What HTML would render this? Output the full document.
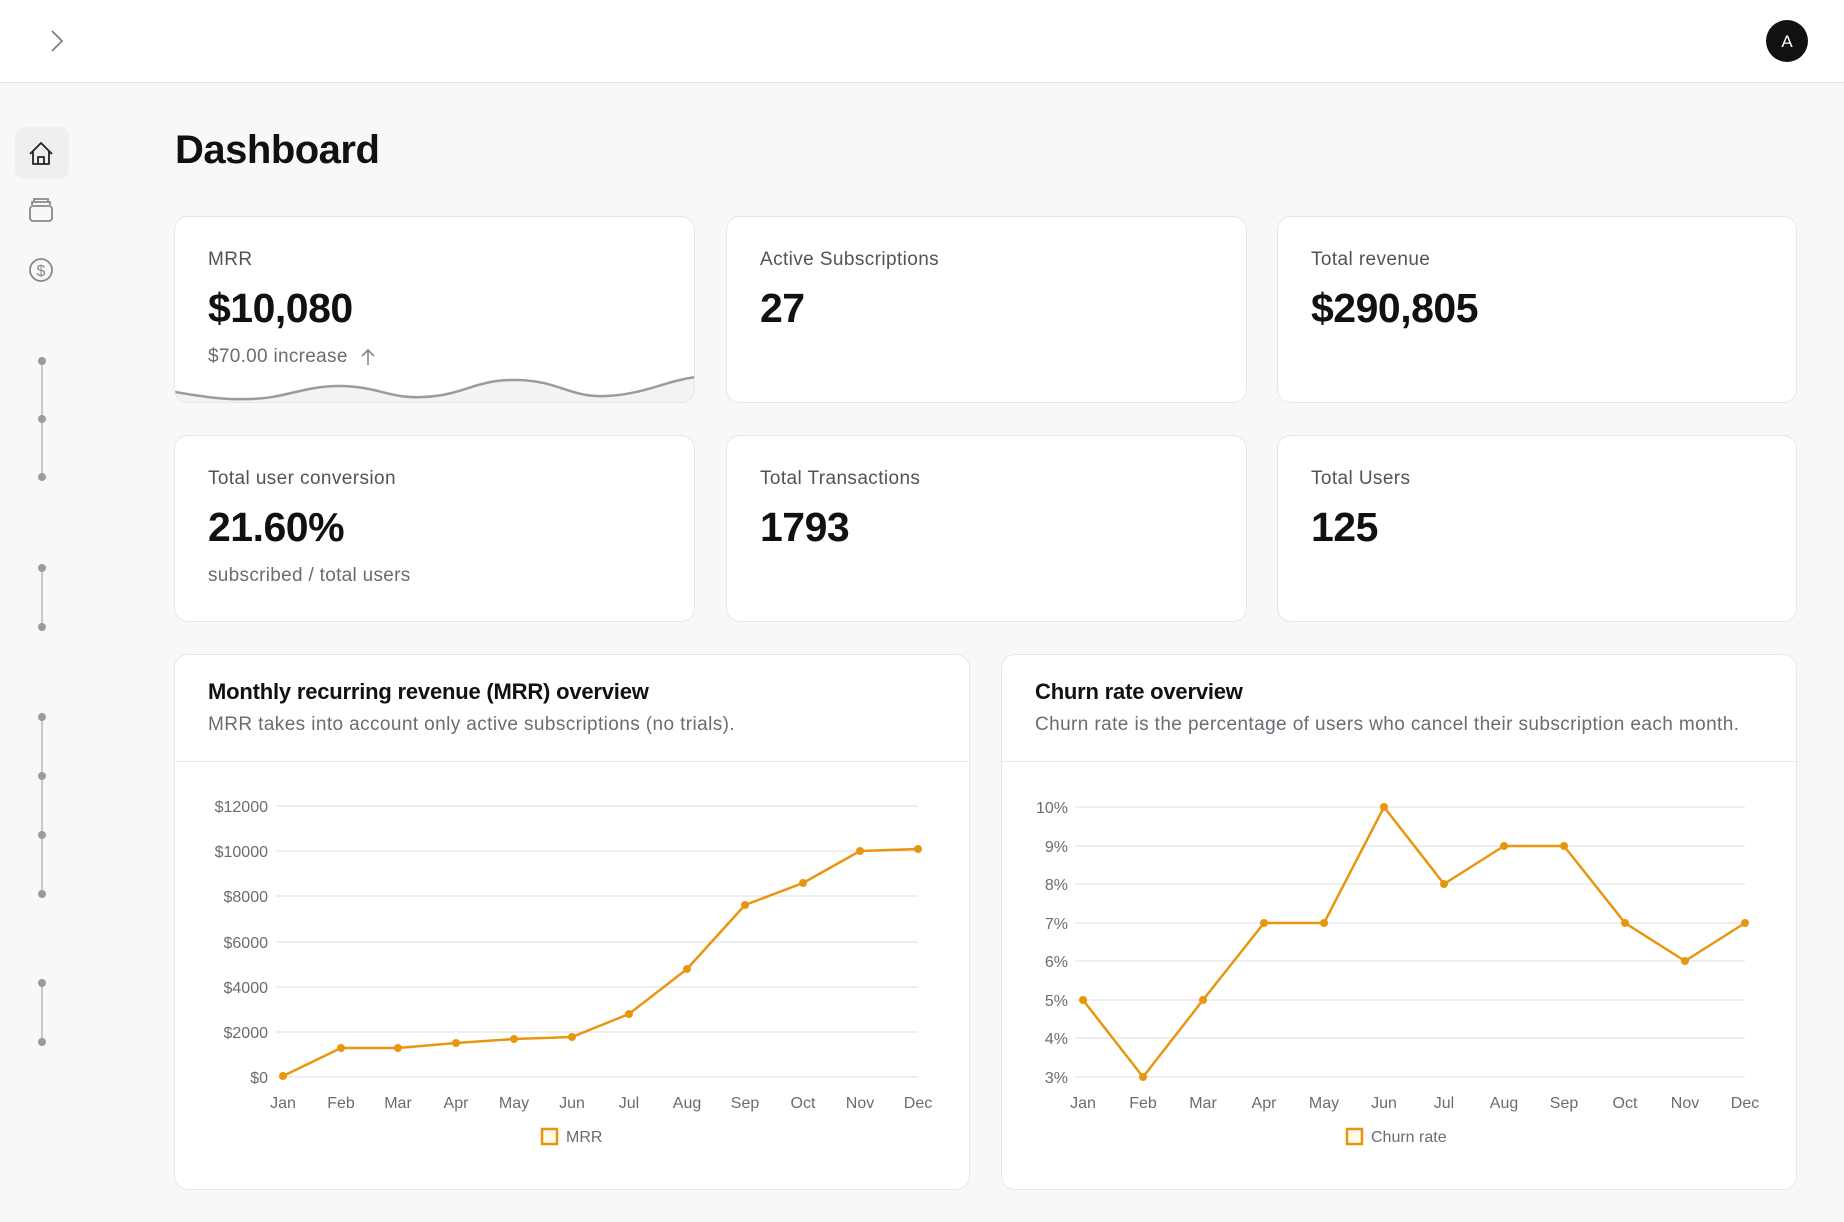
<!DOCTYPE html>
<html><head><meta charset="utf-8"><style>
*{box-sizing:border-box;margin:0;padding:0}
body{width:1844px;height:1222px;background:#f8f8f8;font-family:"Liberation Sans",sans-serif;position:relative;overflow:hidden;color:#111}
.hdr{position:absolute;left:0;top:0;width:1844px;height:83px;background:#fff;border-bottom:1px solid #e4e4e7}
.card{position:absolute;background:#fff;border:1px solid #e7e7ea;border-radius:14px;overflow:hidden}
.lbl{position:absolute;left:33px;top:32px;font-size:19px;color:#52525b;letter-spacing:0.4px}
.val{position:absolute;left:33px;top:68px;font-size:41px;font-weight:bold;color:#111;letter-spacing:-0.5px}
.sub{position:absolute;left:33px;top:129px;font-size:19px;color:#6b6b73;letter-spacing:0.3px}
.ct{position:absolute;left:33px;top:24px;font-size:22px;font-weight:bold;letter-spacing:-0.2px}
.cs{position:absolute;left:33px;top:59px;font-size:19px;color:#6b6b73;letter-spacing:0.4px}
.dv{position:absolute;left:0;right:0;top:106px;border-top:1px solid #e7e7ea}
svg text{font-family:"Liberation Sans",sans-serif;fill:#6b6b73;font-size:16px}
</style></head><body>
<div class="hdr"></div>
<svg style="position:absolute;left:0;top:0" width="1844" height="1222">
<polyline points="52,31 62,41 52,51" fill="none" stroke="#777" stroke-width="1.6"/>
<circle cx="1787" cy="41" r="21" fill="#111"/>
<text x="1787" y="47" text-anchor="middle" style="fill:#fff;font-size:17px">A</text>
<rect x="15" y="127" width="54" height="52" rx="9" fill="#efeff0"/>
<path d="M30 154 L41 143 L52 154 M33 151 V164 H49 V151 M38 164 V157 H44 V164" fill="none" stroke="#222" stroke-width="1.8" stroke-linejoin="round"/>
<rect x="30" y="206" width="22" height="15" rx="3" fill="none" stroke="#888" stroke-width="1.8"/>
<path d="M32 205 V202 H50 V205 M34 201 V199 H48 V201" fill="none" stroke="#888" stroke-width="1.8"/>
<circle cx="41" cy="270" r="11" fill="none" stroke="#888" stroke-width="1.8"/>
<text x="41" y="276" text-anchor="middle" style="fill:#888;font-size:16px">$</text>
<g stroke="#c9c9cd" stroke-width="2"><line x1="42" y1="361" x2="42" y2="477"/><line x1="42" y1="568" x2="42" y2="627"/><line x1="42" y1="717" x2="42" y2="894"/><line x1="42" y1="983" x2="42" y2="1042"/></g>
<g fill="#9a9aa0"><circle cx="42" cy="361" r="4"/><circle cx="42" cy="419" r="4"/><circle cx="42" cy="477" r="4"/><circle cx="42" cy="568" r="4"/><circle cx="42" cy="627" r="4"/><circle cx="42" cy="717" r="4"/><circle cx="42" cy="776" r="4"/><circle cx="42" cy="835" r="4"/><circle cx="42" cy="894" r="4"/><circle cx="42" cy="983" r="4"/><circle cx="42" cy="1042" r="4"/></g>
<text x="175" y="163" style="fill:#111;font-size:40px;font-weight:bold;letter-spacing:-0.5px">Dashboard</text>
</svg>

<div class="card" style="left:174px;top:216px;width:521px;height:187px">
<div class="lbl">MRR</div><div class="val">$10,080</div><div class="sub">$70.00 increase</div>
<svg style="position:absolute;left:0;top:0" width="521" height="187">
<path d="M193 148 V133 M187 139 L193 133 L199 139" fill="none" stroke="#888" stroke-width="1.6"/>
<path d="M0 175 C30 180 50 183 73 182 C110 182 130 168 167 169 C205 170 215 182 249 180 C290 178 300 162 343 163 C385 164 395 181 432 179 C470 177 490 164 521 160 V187 H0 Z" fill="#f3f3f4"/>
<path d="M0 175 C30 180 50 183 73 182 C110 182 130 168 167 169 C205 170 215 182 249 180 C290 178 300 162 343 163 C385 164 395 181 432 179 C470 177 490 164 521 160" fill="none" stroke="#9a9aa2" stroke-width="2.5"/>
</svg></div>
<div class="card" style="left:726px;top:216px;width:521px;height:187px"><div class="lbl">Active Subscriptions</div><div class="val">27</div></div>
<div class="card" style="left:1277px;top:216px;width:520px;height:187px"><div class="lbl">Total revenue</div><div class="val">$290,805</div></div>
<div class="card" style="left:174px;top:435px;width:521px;height:187px"><div class="lbl">Total user conversion</div><div class="val">21.60%</div><div class="sub">subscribed / total users</div></div>
<div class="card" style="left:726px;top:435px;width:521px;height:187px"><div class="lbl">Total Transactions</div><div class="val">1793</div></div>
<div class="card" style="left:1277px;top:435px;width:520px;height:187px"><div class="lbl">Total Users</div><div class="val">125</div></div>

<div class="card" style="left:174px;top:654px;width:796px;height:536px"><div class="ct">Monthly recurring revenue (MRR) overview</div><div class="cs">MRR takes into account only active subscriptions (no trials).</div><div class="dv"></div></div>
<div class="card" style="left:1001px;top:654px;width:796px;height:536px"><div class="ct">Churn rate overview</div><div class="cs">Churn rate is the percentage of users who cancel their subscription each month.</div><div class="dv"></div></div>

<svg style="position:absolute;left:0;top:0" width="1844" height="1222">
<g stroke="#e4e4e7" stroke-width="1.3">
<line x1="276" x2="918" y1="806" y2="806"/><line x1="276" x2="918" y1="851" y2="851"/><line x1="276" x2="918" y1="896" y2="896"/><line x1="276" x2="918" y1="942" y2="942"/><line x1="276" x2="918" y1="987" y2="987"/><line x1="276" x2="918" y1="1032" y2="1032"/><line x1="276" x2="918" y1="1077" y2="1077"/>
<line x1="1075" x2="1745" y1="807" y2="807"/><line x1="1075" x2="1745" y1="846" y2="846"/><line x1="1075" x2="1745" y1="884" y2="884"/><line x1="1075" x2="1745" y1="923" y2="923"/><line x1="1075" x2="1745" y1="961" y2="961"/><line x1="1075" x2="1745" y1="1000" y2="1000"/><line x1="1075" x2="1745" y1="1038" y2="1038"/><line x1="1075" x2="1745" y1="1077" y2="1077"/>
</g>
<g text-anchor="end">
<text x="268" y="812">$12000</text><text x="268" y="857">$10000</text><text x="268" y="902">$8000</text><text x="268" y="948">$6000</text><text x="268" y="993">$4000</text><text x="268" y="1038">$2000</text><text x="268" y="1083">$0</text>
<text x="1068" y="813">10%</text><text x="1068" y="852">9%</text><text x="1068" y="890">8%</text><text x="1068" y="929">7%</text><text x="1068" y="967">6%</text><text x="1068" y="1006">5%</text><text x="1068" y="1044">4%</text><text x="1068" y="1083">3%</text>
</g>
<g text-anchor="middle">
<text x="283" y="1108">Jan</text><text x="341" y="1108">Feb</text><text x="398" y="1108">Mar</text><text x="456" y="1108">Apr</text><text x="514" y="1108">May</text><text x="572" y="1108">Jun</text><text x="629" y="1108">Jul</text><text x="687" y="1108">Aug</text><text x="745" y="1108">Sep</text><text x="803" y="1108">Oct</text><text x="860" y="1108">Nov</text><text x="918" y="1108">Dec</text>
<text x="1083" y="1108">Jan</text><text x="1143" y="1108">Feb</text><text x="1203" y="1108">Mar</text><text x="1264" y="1108">Apr</text><text x="1324" y="1108">May</text><text x="1384" y="1108">Jun</text><text x="1444" y="1108">Jul</text><text x="1504" y="1108">Aug</text><text x="1564" y="1108">Sep</text><text x="1625" y="1108">Oct</text><text x="1685" y="1108">Nov</text><text x="1745" y="1108">Dec</text>
</g>
<polyline fill="none" stroke="#e8960f" stroke-width="2.5" stroke-linejoin="round" points="283,1076 341,1048 398,1048 456,1043 514,1039 572,1037 629,1014 687,969 745,905 803,883 860,851 918,849"/>
<polyline fill="none" stroke="#e8960f" stroke-width="2.5" stroke-linejoin="round" points="1083,1000 1143,1077 1203,1000 1264,923 1324,923 1384,807 1444,884 1504,846 1564,846 1625,923 1685,961 1745,923"/>
<g fill="#e8960f">
<circle cx="283" cy="1076" r="4"/><circle cx="341" cy="1048" r="4"/><circle cx="398" cy="1048" r="4"/><circle cx="456" cy="1043" r="4"/><circle cx="514" cy="1039" r="4"/><circle cx="572" cy="1037" r="4"/><circle cx="629" cy="1014" r="4"/><circle cx="687" cy="969" r="4"/><circle cx="745" cy="905" r="4"/><circle cx="803" cy="883" r="4"/><circle cx="860" cy="851" r="4"/><circle cx="918" cy="849" r="4"/>
<circle cx="1083" cy="1000" r="4"/><circle cx="1143" cy="1077" r="4"/><circle cx="1203" cy="1000" r="4"/><circle cx="1264" cy="923" r="4"/><circle cx="1324" cy="923" r="4"/><circle cx="1384" cy="807" r="4"/><circle cx="1444" cy="884" r="4"/><circle cx="1504" cy="846" r="4"/><circle cx="1564" cy="846" r="4"/><circle cx="1625" cy="923" r="4"/><circle cx="1685" cy="961" r="4"/><circle cx="1745" cy="923" r="4"/>
</g>
<rect x="542" y="1129" width="15" height="15" fill="#fffbeb" stroke="#e8960f" stroke-width="2.5"/>
<text x="566" y="1142">MRR</text>
<rect x="1347" y="1129" width="15" height="15" fill="#fffbeb" stroke="#e8960f" stroke-width="2.5"/>
<text x="1371" y="1142">Churn rate</text>
</svg>
</body></html>
